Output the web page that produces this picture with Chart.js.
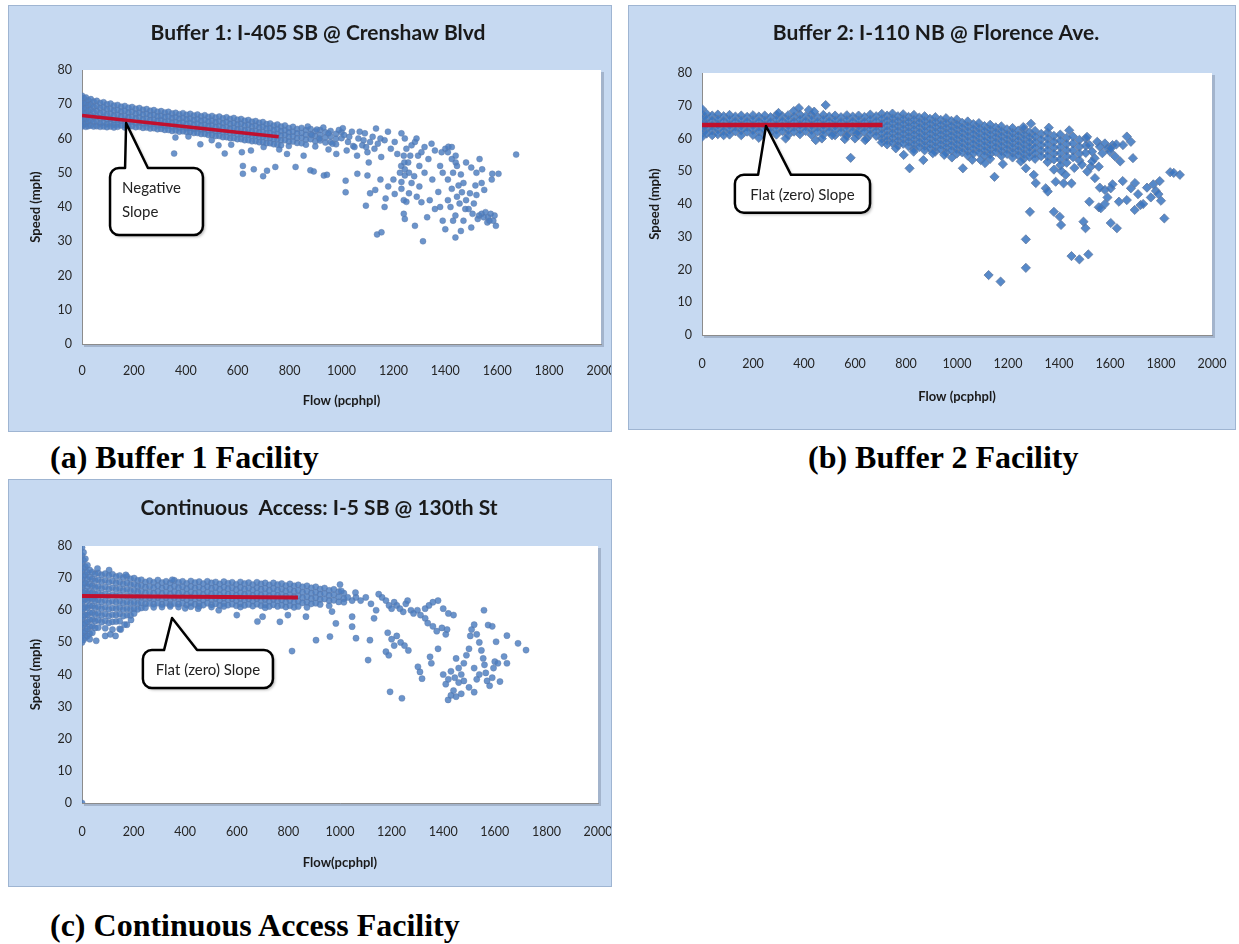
<!DOCTYPE html>
<html>
<head>
<meta charset="utf-8">
<script src="https://cdn.jsdelivr.net/npm/chart.js@4.4.0/dist/chart.umd.min.js"></script>
<style>
  body { margin: 0; background: #fff; width: 1239px; height: 944px; position: relative; overflow: hidden; }
  .panel { position: absolute; background: #c6d9f1; border: 1px solid #9fb5d2; box-sizing: border-box; overflow: hidden; }
  .panel canvas { position: absolute; left: 0; top: 0; }
  .caption { position: absolute; font-family: "Liberation Serif", "Times New Roman", serif; font-weight: bold; font-size: 32px; line-height: 1; color: #000; white-space: pre; }
</style>
</head>
<body>
<div class="panel" style="left:8px;top:5px;width:604px;height:427px"><canvas id="chartA" width="602" height="425"></canvas></div>
<div class="panel" style="left:628px;top:5px;width:608px;height:425px"><canvas id="chartB" width="606" height="423"></canvas></div>
<div class="panel" style="left:8px;top:479px;width:604px;height:408px"><canvas id="chartC" width="602" height="406"></canvas></div>
<div class="caption" style="left:50px;top:441px">(a) Buffer 1 Facility</div>
<div class="caption" style="left:808px;top:441px">(b) Buffer 2 Facility</div>
<div class="caption" style="left:50px;top:909px">(c) Continuous Access Facility</div>
<script>
// flow ticks / speed ticks
const flowTicks = [0, 200, 400, 600, 800, 1000, 1200, 1400, 1600, 1800, 2000];
const speedTicks = [0, 10, 20, 30, 40, 50, 60, 70, 80];

// ---- Buffer 1: I-405 SB @ Crenshaw Blvd ----
// dense band, [flow, [speeds...]]
const bandA = [
  [0,[72.5,71,69.5,68,66.5,65,63.5]],[7,[71.8,70.2,68.7,67.2,65.6,64.1]],[15,[72,70.4,68.9,67.3,65.8,64.3,63.4]],
  [24,[71.2,69.7,68.1,66.6,65,63.6]],[34,[71.5,69.9,68.4,66.8,65.3,63.8]],[45,[70.8,69.3,67.8,66.3,64.8,63.5]],
  [57,[71,69.5,68,66.4,64.9,63.6]],[70,[70.4,68.9,67.4,65.9,64.4,63.4]],[83,[70.6,69.1,67.6,66.1,64.6,63.5]],
  [96,[70,68.6,67.1,65.6,64.2,63.3]],[110,[70.2,68.7,67.2,65.7,64.3,63.5]],[123,[69.6,68.2,66.7,65.3,64,63.2]],
  [137,[69.8,68.3,66.9,65.4,64.1,63.4]],[151,[69.3,67.9,66.5,65.1,63.8]],[165,[69.5,68.1,66.6,65.2,63.9,63.2]],
  [179,[69,67.6,66.2,64.8,63.6]],[193,[69.2,67.8,66.3,64.9,63.6]],[207,[68.7,67.3,65.9,64.5,63.3]],
  [221,[68.9,67.5,66.1,64.7,63.4]],[235,[68.4,67,65.6,64.3,63.1]],[249,[68.6,67.2,65.8,64.4,63.2]],
  [263,[68.1,66.8,65.4,64.1,62.9]],[277,[68.3,66.9,65.5,64.2,63]],[291,[67.8,66.5,65.2,63.8,62.7]],
  [305,[68,66.6,65.3,63.9,62.8]],[319,[67.6,66.3,64.9,63.6,62.5]],[333,[67.8,66.4,65,63.7,62.5]],
  [347,[67.3,66,64.7,63.4,62.2]],[361,[67.5,66.2,64.8,63.5,62.3]],[375,[67.1,65.8,64.5,63.2,62]],
  [389,[67.4,66,64.7,63.3,62.1]],[403,[66.9,65.6,64.3,63,61.9]],[417,[67.2,65.8,64.5,63.1,61.9]],
  [431,[66.7,65.4,64.1,62.8,61.6]],[445,[67,65.6,64.3,62.9,61.6]],[459,[66.5,65.2,63.9,62.6,61.3]],
  [473,[66.8,65.4,64,62.7,61.3]],[487,[66.3,65,63.7,62.3,61]],[501,[66.6,65.2,63.8,62.4,61]],
  [515,[66.1,64.8,63.4,62.1,60.7]],[529,[66.4,65,63.6,62.2,60.7]],[543,[65.9,64.5,63.2,61.8,60.4]],
  [557,[66.2,64.8,63.3,61.9,60.4]],[571,[65.7,64.3,62.9,61.5,60.1]],[585,[66,64.5,63.1,61.6,60.1]],
  [599,[65.5,64.1,62.7,61.2,59.8]],[613,[65.7,64.3,62.8,61.3,59.8]],[627,[65.2,63.8,62.4,61,59.5]],
  [641,[65.4,64,62.5,61,59.5]],[655,[64.9,63.5,62.1,60.7,59.2]],[669,[65.1,63.7,62.2,60.7,59.2]],
  [683,[64.6,63.2,61.8,60.4,58.9]],[697,[64.8,63.4,61.9,60.4,58.9]],[711,[64.2,62.9,61.5,60.1,58.6]],
  [725,[64.4,63,61.6,60.1,58.6]],[739,[63.8,62.5,61.2,59.8,58.3]],[753,[64.1,62.7,61.3,59.8,58.2]],
  [767,[63.5,62.2,60.9,59.5,58]],[782,[63.8,62.4,61,59.5]],[797,[63.1,61.8,60.5,59.1,57.8]],
  [813,[63.4,62,60.6,59.1]],[829,[62.8,61.5,60.1,58.7]],[846,[63.1,61.6,60.2,58.6]],
  [863,[62.5,61.1,59.7,58.2]],[881,[62.8,61.3,59.8]],[899,[62.1,60.7,59.2,57.7]],
  [918,[62.5,61,59.4]],[938,[61.8,60.3,58.8]],[958,[62.2,60.6,59]],[979,[61.4,59.9,58.3]],[1000,[61.8,60.1]],
];
// scattered points, [flow, speed]
const scatterA = [
  [355,55.6],[360,60.3],[410,60.6],[456,58.3],[500,59.5],[526,58],[550,55.6],[575,58.2],[616,56],[651,56.5],
  [620,52],[620,49.7],[662,51],[698,49],[713,50.6],[745,51.7],[700,57.5],[760,56.8],[790,55.5],[823,51.7],
  [854,55],[880,50.7],[893,50.4],[932,49.2],[944,49.4],[870,63.5],[885,61],[905,62.6],[915,60],[930,63.2],
  [950,61.5],[965,58.5],[990,62.5],[1005,63],[980,55.5],[950,56.8],[1010,61],[1025,59],[1030,60.5],[1040,62],
  [1045,57.8],[1050,57.5],[1065,60],[1070,62],[1080,58],[1085,59.5],[1090,61.5],[1095,57.5],[1100,56],[1110,59],
  [1120,60.5],[1127,57],[1133,62.9],[1140,58.5],[1150,60],[1153,54.6],[1166,59.5],[1179,62],[1190,57],[1205,59],
  [1215,55.5],[1231,61.5],[1244,60],[1250,57],[1257,53],[1270,58],[1283,59],[1289,60],[1295,55],[1308,56],
  [1320,57.5],[1335,54],[1347,58.5],[1360,56.5],[1386,56],[1400,57],[1412,57.6],[1425,54],[1440,55],[1410,56],
  [1425,57.5],[1440,53],[1060,55],[1020,56.5],
  [1016,47.7],[1016,44.3],[1061,49.7],[1094,40.4],[1100,49.2],[1105,53],[1110,44],[1130,45],[1137,32],[1150,48],
  [1154,32.6],[1166,40],[1170,42.5],[1180,46],[1200,48],[1205,43.8],[1225,50],[1230,52],[1231,45.3],[1231,47.3],
  [1240,38],[1240,42],[1240,55],[1242,53],[1244,49.2],[1244,51],[1244,36.5],[1250,41.5],[1260,44],[1260,50],
  [1265,55],[1270,47],[1280,49],[1283,34.5],[1290,43],[1300,46],[1300,52],[1308,41.4],[1314,30],[1320,50],
  [1330,37],[1340,42],[1350,48],[1360,39.4],[1373,44.4],[1380,40],[1380,52],[1390,36],[1390,50],[1400,33.5],
  [1410,42],[1410,48],[1420,40],[1425,45.3],[1430,36],[1430,50],[1439,31.1],[1439,37.5],[1445,43],[1445,52],
  [1451,46.3],[1455,41],[1460,33],[1460,49.5],[1464,44.3],[1470,36],[1470,47],[1477,39.4],[1480,42],[1480,53],
  [1490,39.4],[1495,44],[1500,34],[1500,51.5],[1505,38],[1510,41],[1516,46.3],[1520,43.5],[1520,50],[1525,36.5],
  [1530,37.5],[1532,54],[1540,38],[1540,47],[1542,51],[1548,37],[1550,45],[1555,38.5],[1562,35.5],[1565,37],
  [1570,36],[1575,38],[1579,48],[1581,49.7],[1585,36],[1590,37.5],[1595,34.5],[1605,49.7],[1673,55.3],
];
const trendA = [[0,66.7],[758,60.5]];

// ---- Buffer 2: I-110 NB @ Florence Ave. ----
const bandB = [
  [0,[69,67.5,66,64.5,63,61.5,60.5]],[18,[67.5,66,64.5,63,61.5]],[40,[67,65.5,64,62.5,61]],
  [62,[67.3,65.8,64.3,62.8,61.3]],[85,[66.8,65.3,63.8,62.3,61]],[108,[67.2,65.7,64.2,62.7,61.2]],
  [131,[66.7,65.2,63.7,62.2]],[154,[67,65.5,64,62.5,61]],[177,[66.6,65.1,63.6,62.1]],
  [200,[67.1,65.6,64.1,62.6,61.1]],[223,[66.7,65.2,63.7,62.2]],[246,[67,65.5,64,62.5,61]],
  [269,[66.5,65,63.5,62]],[292,[67.2,65.7,64.2,62.7,61.2]],[315,[66.8,65.3,63.8,62.3]],
  [338,[67.1,65.6,64.1,62.6,61.1]],[361,[66.6,65.1,63.6,62.1]],[384,[67.3,65.8,64.3,62.8,61.3]],
  [407,[66.8,65.3,63.8,62.3]],[430,[67.1,65.6,64.1,62.6,61.1]],[453,[66.6,65.1,63.6,62.1]],
  [476,[67.2,65.7,64.2,62.7,61.2]],[499,[66.7,65.2,63.7,62.2]],[522,[67,65.5,64,62.5,61]],
  [545,[66.5,65,63.5,62]],[568,[67.1,65.6,64.1,62.6,61.1]],[591,[66.7,65.2,63.7,62.2]],
  [614,[67,65.5,64,62.5,61]],[637,[66.6,65.1,63.6,62.1]],[660,[67.3,65.8,64.3,62.8,61.3]],
  [683,[66.8,65.3,63.8,62.3,60.8]],[705,[67.5,66,64.5,63,61.5,60,58.8]],[726,[67,65.5,64,62.5,61,59.5,58.2]],
  [747,[67.6,66.1,64.6,63.1,61.6,60.1,58.6]],[768,[66.8,65.3,63.8,62.3,60.8,59.3,57.9]],
  [789,[67.4,65.9,64.4,62.9,61.4,59.9,58.4]],[810,[66.6,65.1,63.6,62.1,60.6,59.1,57.6]],
  [831,[67.2,65.7,64.2,62.7,61.2,59.7,58.2,56.8]],[852,[66.4,64.9,63.4,61.9,60.4,58.9,57.4]],
  [873,[66.8,65.3,63.8,62.3,60.8,59.3,57.8,56.4]],[894,[66,64.5,63,61.5,60,58.5,57]],
  [915,[66.5,65,63.5,62,60.5,59,57.5,56]],[936,[65.7,64.2,62.7,61.2,59.7,58.2,56.7]],
  [957,[66.2,64.7,63.2,61.7,60.2,58.7,57.2,55.7]],[978,[65.4,63.9,62.4,60.9,59.4,57.9,56.4]],
  [999,[65.8,64.3,62.8,61.3,59.8,58.3,56.8,55.4]],[1020,[64.8,63.3,61.8,60.3,58.8,57.3,55.8]],
  [1042,[65.2,63.7,62.2,60.7,59.2,57.7,56.2,54.8]],[1064,[64.4,62.9,61.4,59.9,58.4,56.9,55.4]],
  [1086,[64.7,63.2,61.7,60.2,58.7,57.2,55.7]],[1108,[63.8,62.3,60.8,59.3,57.8,56.3,54.8]],
  [1130,[64.2,62.7,61.2,59.7,58.2,56.7,55.2,53.8]],[1152,[63.4,61.9,60.4,58.9,57.4,55.9]],
  [1174,[63.7,62.2,60.7,59.2,57.7,56.2,54.7]],[1196,[62.8,61.3,59.8,58.3,56.8,55.3]],
  [1218,[63.2,61.7,60.2,58.7,57.2,55.7,54.2]],[1240,[62.4,60.9,59.4,57.9,56.4,54.9]],
  [1262,[62.8,61.3,59.8,58.3,56.8,55.3,53.8]],[1284,[61.9,60.4,58.9,57.4,55.9,54.4]],
  [1306,[62.3,60.6,58.9,57.2,55.5,53.8]],[1330,[61.4,59.7,58,56.3,54.6]],[1355,[61.8,60,58.2,56.4,54.6,52.8]],
  [1380,[60.8,59,57.2,55.4,53.6]],[1405,[61.2,59.3,57.4,55.5,53.6,51.8]],[1430,[60.2,58.3,56.4,54.5,52.6]],
  [1455,[60.6,58.5,56.4,54.3]],[1480,[59.6,57.5,55.4,53.3]],[1505,[60,57.8,55.6]],
];
const scatterB = [
  [380,69.3],[419,68.7],[485,70.2],[300,67.8],[440,68.2],[360,68.4],[223,60.2],[328,60],[446,59.5],[470,60],
  [510,61],[568,60.8],[607,61.6],[646,60],[583,54.1],[560,59.8],[600,60],[640,59.5],[760,57],[791,55],
  [814,50.9],[830,56],[868,53.4],[905,55.5],[950,55],[980,54.2],[1023,50.9],[1060,53.5],[1093,53.4],[1110,52.5],
  [1147,48.3],[1180,52.2],[1124,18.3],[1171,16.3],[1250,53],[1270,50.9],[1301,48.9],[1309,46.4],[1270,29.2],[1270,20.5],
  [1286,37.6],[1260,63.5],[1290,64.5],[1348,44.8],[1356,43.8],[1387,46.8],[1418,46.3],[1426,48.9],[1449,46.3],[1380,37.6],
  [1403,36.1],[1408,33.6],[1449,24.1],[1480,23.1],[1515,24.6],[1496,34.6],[1504,32.6],[1511,49.9],[1525,51.4],[1541,47.9],
  [1519,40.7],[1380,50.5],[1410,50],[1460,51],[1490,52],[1440,62.5],[1360,63.3],[1510,60.5],[1520,58],[1530,56],
  [1540,54],[1550,59],[1560,57.5],[1570,55.5],[1580,58.5],[1590,57],[1600,56],[1610,58],[1620,54.5],[1603,57],
  [1625,58.2],[1651,58],[1666,60.6],[1682,59],[1690,54],[1640,53],[1556,51.4],[1530,53],[1556,39],[1564,38.7],
  [1580,40],[1580,44.3],[1603,44.8],[1610,46],[1603,34.2],[1627,32.6],[1635,40.7],[1666,41.2],[1682,44.8],[1698,46.4],
  [1697,38.2],[1720,39.7],[1760,42],[1770,46],[1780,44],[1790,43],[1800,41],[1795,47],[1813,35.6],[1836,49.7],
  [1874,48.9],[1850,49.5],[1745,45],[1730,40],[1710,43],[1590,42],[1650,47],[1560,45],
];
const trendB = [[0,64.1],[708,64.1]];

// ---- Continuous Access: I-5 SB @ 130th St ----
const bandC = [
  [0,[79.5,77,74.5,72,69.5,67,64.5,62,59.5,57,54.5,52,50]],[6,[78,75.5,73,70.5,68,65.5,63,60.5,58,55.5,53,50.8]],
  [13,[76,73.5,71,68.5,66,63.5,61,58.5,56,53.5,51.5]],[21,[74,71.8,69.6,67.4,65.2,63,60.8,58.6,56.4,54.2,52]],
  [30,[72.5,70.3,68.1,65.9,63.7,61.5,59.3,57.1,54.9,52.7]],[40,[71.8,69.7,67.6,65.5,63.4,61.3,59.2,57.1,55,53]],
  [51,[71.3,69.2,67.1,65,62.9,60.8,58.7,56.6,54.5]],[63,[71.6,69.5,67.4,65.3,63.2,61.1,59,56.9,54.6]],
  [76,[71,68.9,66.8,64.7,62.6,60.5,58.4,56.3]],[90,[71.4,69.3,67.2,65.1,63,60.9,58.8,56.7,54.4]],
  [104,[70.8,68.7,66.6,64.5,62.4,60.3,58.2,56.1]],[118,[71.2,69.1,67,64.9,62.8,60.7,58.6,56.4,54]],
  [132,[70.5,68.5,66.5,64.5,62.5,60.5,58.5,56.5]],[146,[70.8,68.8,66.8,64.8,62.8,60.8,58.8,56.6,54.2]],
  [160,[70.2,68.2,66.2,64.2,62.2,60.2,58.2]],[174,[70.5,68.5,66.5,64.5,62.5,60.5,58.5,55.5]],
  [188,[69.8,67.9,66,64.1,62.2,60.3,58.4]],[202,[70,68.1,66.2,64.3,62.4,60.5,59]],
  [216,[69.3,67.5,65.7,63.9,62.1,60.3]],[230,[69.5,67.7,65.9,64.1,62.3,60.7]],
  [246,[68.8,67.1,65.4,63.7,62,60.8]],[262,[69.2,67.4,65.6,63.8,62.1]],[278,[68.7,67,65.3,63.6,61.9,60.9]],
  [294,[69.4,67.6,65.8,64,62.2]],[310,[68.6,66.9,65.2,63.5,61.8,61]],[326,[69,67.3,65.6,63.9,62.2]],
  [342,[68.5,66.8,65.1,63.4,61.7,61.2]],[358,[69.3,67.5,65.7,63.9,62.1]],[374,[68.7,67,65.3,63.6,61.9,61]],
  [390,[69,67.3,65.6,63.9,62.2]],[406,[68.4,66.7,65,63.3,61.6]],[422,[69.1,67.4,65.7,64,62.3,61.1]],
  [438,[68.6,66.9,65.2,63.5,61.8]],[454,[68.9,67.2,65.5,63.8,62.1,61.2]],[470,[68.3,66.6,64.9,63.2,61.6]],
  [486,[69,67.3,65.6,63.9,62.2]],[502,[68.5,66.8,65.1,63.4,61.7,61]],[518,[68.8,67.1,65.4,63.7,62]],
  [534,[68.2,66.5,64.8,63.1,61.5]],[550,[68.9,67.2,65.5,63.8,62.1,61.2]],[566,[68.4,66.7,65,63.3,61.6]],
  [582,[68.7,67,65.3,63.6,61.9]],[598,[68.1,66.4,64.7,63,61.4]],[614,[68.8,67.1,65.4,63.7,62,61]],
  [630,[68.3,66.6,64.9,63.2,61.5]],[646,[68.6,66.9,65.2,63.5,61.8]],[662,[68,66.3,64.6,62.9,61.3]],
  [678,[68.7,67,65.3,63.6,61.9]],[694,[68.2,66.5,64.8,63.1,61.4]],[710,[68.5,66.8,65.1,63.4,61.7,60.8]],
  [726,[67.9,66.2,64.5,62.8,61.2]],[742,[68.5,66.8,65.1,63.4,61.7]],[758,[68,66.3,64.6,62.9,61.2]],
  [774,[68.3,66.6,64.9,63.2,61.5]],[790,[67.7,66,64.3,62.6,61]],[806,[68.2,66.5,64.8,63.1,61.4]],
  [822,[67.6,65.9,64.2,62.5,60.9]],[838,[67.9,66.2,64.5,62.8,61.2]],[855,[67.3,65.6,63.9,62.3]],
  [872,[67.6,65.9,64.2,62.5,60.9]],[889,[67,65.3,63.6,62]],[906,[67.3,65.6,63.9,62.2]],
  [923,[66.6,65,63.4,61.8]],[940,[66.9,65.2,63.5]],[958,[66.2,64.6,63,61.4]],[976,[66.5,64.8,63.1]],
  [995,[65.8,64.2,62.6]],[1015,[65.3,63.6]],
];
const scatterC = [
  [0,0],[30,51],[55,50.5],[90,52],[110,52.5],[130,52],[150,54],[165,55.5],[190,57],[60,73],[105,72.5],[170,71],
  [350,69.5],[600,58.5],[680,56.5],[700,58],[767,56.4],[798,58.5],[814,47.3],[868,58],[907,50.7],[961,51.8],
  [969,59.6],[984,55.9],[1047,54.9],[1047,58],[1062,51.3],[1116,50.7],[1132,57.5],[1140,60],[1047,63],[1062,64],
  [1109,44.5],[1178,47.1],[1189,46],[1194,34.6],[1240,32.6],[1000,68],[530,60],[450,60.5],[400,60.6],
  [1163,64],[1178,63],[1190,61.5],[1200,60.5],[1210,62.5],[1220,61.5],[1232,60.5],[1245,59.5],[1255,62],[1262,63],
  [1275,60],[1285,59],[1300,60],[1312,58.5],[1330,57.5],[1340,56],[1360,55],[1375,53.5],[1395,54.5],[1410,52.5],
  [1150,65],[1120,62],[1100,64],[1080,63],[1060,65.5],[1030,64],[1015,62.5],[1005,66],[1185,53],[1200,51],
  [1210,49],[1220,52],[1235,50],[1250,49],[1265,47.5],[1302,42.4],[1310,40.8],[1318,38.7],[1349,45.5],[1354,43.5],
  [1330,60.5],[1345,61.5],[1360,62.5],[1380,63],[1400,60.5],[1420,59],[1440,58.5],[1380,48],[1415,54],
  [1419,32.1],[1450,33.1],[1430,33.5],[1440,35],[1410,37],[1420,38.5],[1400,40],[1430,41],[1445,39],[1460,37.5],
  [1470,40],[1480,43.5],[1490,46],[1500,48],[1505,52],[1510,54],[1520,55.5],[1530,52.5],[1540,50],[1548,47.5],
  [1555,45],[1560,43],[1565,40.5],[1570,38],[1580,36.5],[1590,39],[1595,42],[1600,44],[1605,50.2],[1612,43.5],
  [1620,37.8],[1636,45.6],[1647,43.5],[1647,52.1],[1558,60],[1574,55.4],[1590,55],[1690,49.7],[1721,47.6],
  [1500,36],[1520,34.5],[1530,38.5],[1470,34],[1460,42],[1450,45],[1520,42],[1540,40],[1480,38],
];
const trendC = [[0,64.4],[837,64.0]];

function byId(id) {
  return document.getElementById(id);
}

function pairs(list) {
  return list.map(([x, y]) => ({ x, y }));
}

function fromBand(band) {
  return band.flatMap(([flow, speeds]) => speeds.map((speed) => ({ x: flow, y: speed })));
}

const SANS = "Lato, 'Open Sans', sans-serif";

// white plot area with a soft edge like the Excel plot box
const plotArea = {
  id: "plotArea",
  beforeDraw(chart) {
    const { ctx, chartArea: a } = chart;
    ctx.save();
    ctx.fillStyle = "rgba(120,135,160,0.45)";
    ctx.fillRect(a.left + 2, a.top + 2, a.width + 1, a.height + 1);
    ctx.fillStyle = "#ffffff";
    ctx.fillRect(a.left, a.top, a.width, a.height);
    ctx.restore();
  },
};

// rounded callout box with a pointer, placed in data units
const callout = {
  id: "callout",
  afterDatasetsDraw(chart, args, opts) {
    if (!opts.lines) return;
    const { ctx } = chart;
    const sx = chart.scales.x;
    const sy = chart.scales.y;
    const left = sx.getPixelForValue(opts.box[0]);
    const top = sy.getPixelForValue(opts.box[1]);
    const right = sx.getPixelForValue(opts.box[2]);
    const bottom = sy.getPixelForValue(opts.box[3]);
    const tipX = sx.getPixelForValue(opts.tip[0]);
    const tipY = sy.getPixelForValue(opts.tip[1]);
    const b1 = sx.getPixelForValue(opts.base[0]);
    const b2 = sx.getPixelForValue(opts.base[1]);
    const r = 9;
    ctx.save();
    ctx.beginPath();
    ctx.moveTo(left + r, top);
    ctx.lineTo(b1, top);
    ctx.lineTo(tipX, tipY);
    ctx.lineTo(b2, top);
    ctx.lineTo(right - r, top);
    ctx.arcTo(right, top, right, top + r, r);
    ctx.lineTo(right, bottom - r);
    ctx.arcTo(right, bottom, right - r, bottom, r);
    ctx.lineTo(left + r, bottom);
    ctx.arcTo(left, bottom, left, bottom - r, r);
    ctx.lineTo(left, top + r);
    ctx.arcTo(left, top, left + r, top, r);
    ctx.closePath();
    ctx.shadowColor = "rgba(0,0,0,0.3)";
    ctx.shadowOffsetX = 2;
    ctx.shadowOffsetY = 2;
    ctx.shadowBlur = 3;
    ctx.fillStyle = "#ffffff";
    ctx.fill();
    ctx.shadowColor = "transparent";
    ctx.lineWidth = 2.5;
    ctx.lineJoin = "round";
    ctx.strokeStyle = "#000000";
    ctx.stroke();
    ctx.fillStyle = "#222222";
    ctx.font = `15px ${SANS}`;
    ctx.textBaseline = "middle";
    if (opts.align === "left") {
      ctx.textAlign = "left";
      opts.lines.forEach((line, i) => ctx.fillText(line, left + 12, top + 20 + i * 24));
    } else {
      ctx.textAlign = "center";
      ctx.fillText(opts.lines[0], (left + right) / 2, (top + bottom) / 2 + 1);
    }
    ctx.restore();
  },
};

function scatterChart(id, setup) {
  return new Chart(byId(id), {
    type: "scatter",
    data: {
      datasets: [
        {
          type: "line",
          data: pairs(setup.trend),
          borderColor: "#c0102e",
          borderWidth: setup.trendWidth,
          pointRadius: 0,
          fill: false,
          order: 0,
        },
        {
          data: setup.points,
          pointStyle: setup.marker,
          pointRadius: setup.radius,
          backgroundColor: setup.fill,
          borderColor: setup.edge,
          borderWidth: setup.edgeWidth,
          order: 1,
        },
      ],
    },
    plugins: [plotArea, callout],
    options: {
      responsive: false,
      animation: false,
      events: [],
      layout: { padding: { left: setup.padLeft, right: setup.padRight, top: 0, bottom: 0 } },
      plugins: {
        legend: { display: false },
        tooltip: { enabled: false },
        title: {
          display: true,
          text: setup.title,
          color: "#1a1a1a",
          font: { family: SANS, size: 21, weight: "bold" },
          padding: setup.titlePad,
        },
        callout: setup.callout,
      },
      scales: {
        x: {
          type: "linear",
          min: 0,
          max: 2000,
          afterFit: (scale) => {
            scale.height = setup.xHeight;
            scale.paddingLeft = 0;
            scale.paddingRight = 0;
          },
          afterBuildTicks: (scale) => {
            scale.ticks = flowTicks.map((value) => ({ value }));
          },
          grid: { display: false, drawTicks: false },
          border: { display: true, color: "#8c8c8c", width: 1 },
          ticks: {
            color: "#262626",
            font: { family: SANS, size: 12.5 },
            padding: setup.xTickPad,
            maxRotation: 0,
            callback: (value) => String(value),
          },
          title: {
            display: true,
            text: setup.xTitle,
            color: "#1a1a1a",
            font: { family: SANS, size: 13, weight: "bold" },
            padding: { top: 0, bottom: setup.xTitlePad },
          },
        },
        y: {
          type: "linear",
          min: 0,
          max: 80,
          afterFit: (scale) => {
            scale.width = 73 - setup.padLeft;
          },
          afterBuildTicks: (scale) => {
            scale.ticks = speedTicks.map((value) => ({ value }));
          },
          grid: { display: false, drawTicks: false },
          border: { display: true, color: "#8c8c8c", width: 1 },
          ticks: {
            color: "#262626",
            font: { family: SANS, size: 12.5 },
            padding: 10,
            callback: (value) => String(value),
          },
          title: {
            display: true,
            text: "Speed (mph)",
            color: "#1a1a1a",
            font: { family: SANS, size: 13, weight: "bold" },
            padding: { top: setup.yTitlePad, bottom: 0 },
          },
        },
      },
    },
  });
}

scatterChart("chartA", {
  title: "Buffer 1: I-405 SB @ Crenshaw Blvd",
  xTitle: "Flow (pcphpl)",
  points: fromBand(bandA).concat(pairs(scatterA)),
  trend: trendA,
  trendWidth: 3.5,
  marker: "circle",
  radius: 3,
  fill: "rgba(74,124,192,0.82)",
  edge: "rgba(95,120,165,0.7)",
  edgeWidth: 0.6,
  padLeft: 26,
  padRight: 10,
  yTitlePad: -6.8,
  titlePad: { top: 14.4, bottom: 24.4 },
  xHeight: 87,
  xTickPad: 19,
  xTitlePad: 22.4,
  callout: { box: [108, 51.4, 466, 31.8], tip: [170, 64.5], base: [166, 254], lines: ["Negative", "Slope"], align: "left" },
});

scatterChart("chartB", {
  title: "Buffer 2: I-110 NB @ Florence Ave.",
  xTitle: "Flow (pcphpl)",
  points: fromBand(bandB).concat(pairs(scatterB)),
  trend: trendB,
  trendWidth: 4.5,
  marker: "rectRot",
  radius: 4.6,
  fill: "rgba(56,116,192,0.85)",
  edge: "rgba(100,125,165,0.85)",
  edgeWidth: 1,
  padLeft: 31,
  padRight: 23,
  yTitlePad: -12.8,
  titlePad: { top: 14.4, bottom: 27.4 },
  xHeight: 94,
  xTickPad: 21,
  xTitlePad: 24.4,
  callout: { box: [129, 48.9, 659, 37.3], tip: [251, 63.8], base: [220, 349], lines: ["Flat (zero) Slope"], align: "center" },
});

scatterChart("chartC", {
  title: "Continuous  Access: I-5 SB @ 130th St",
  xTitle: "Flow(pcphpl)",
  points: fromBand(bandC).concat(pairs(scatterC)),
  trend: trendC,
  trendWidth: 4,
  marker: "circle",
  radius: 3.1,
  fill: "rgba(74,124,192,0.82)",
  edge: "rgba(95,120,165,0.7)",
  edgeWidth: 0.6,
  padLeft: 31,
  padRight: 13,
  yTitlePad: -11.8,
  titlePad: { top: 15.4, bottom: 25.4 },
  xHeight: 83,
  xTickPad: 21,
  xTitlePad: 15.4,
  callout: { box: [236, 47.6, 740, 35.8], tip: [349, 57.6], base: [318, 446], lines: ["Flat (zero) Slope"], align: "center" },
});
</script>
</body>
</html>
